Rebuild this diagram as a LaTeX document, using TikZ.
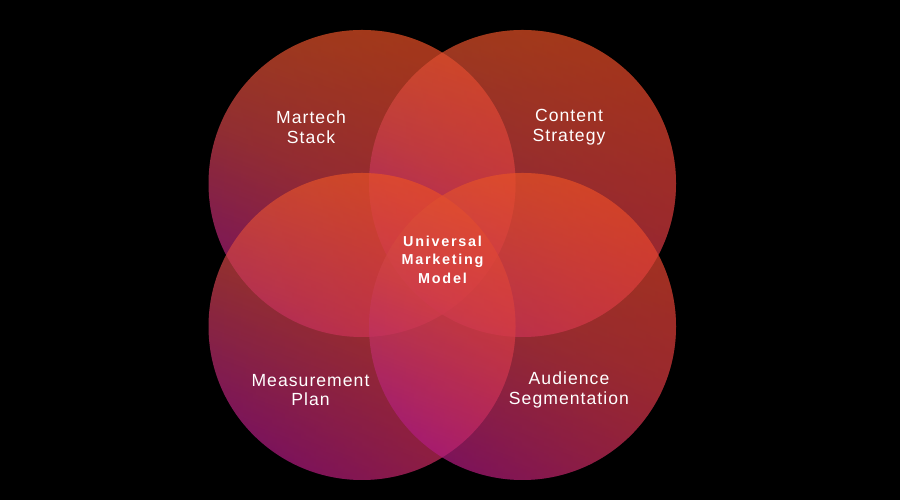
\documentclass[tikz,border=0pt]{standalone}
\usepackage{fontspec}
\usepackage{xcolor}
\usepackage{tikz}
\usetikzlibrary{fadings}
\setmainfont{Liberation Sans}
\newfontfamily\fuenteArea[LetterSpace=6]{Liberation Sans}
\newfontfamily\fuenteCentro[LetterSpace=12]{Liberation Sans}
\definecolor{FondoNegro}{RGB}{0,0,0}
\definecolor{NaranjaMarca}{RGB}{232,94,30}
\definecolor{CobreMarca}{RGB}{206,66,74}
\definecolor{RojoMarca}{RGB}{236,52,56}
\definecolor{MoradoMarca}{RGB}{170,24,140}
\tikzfading[name=rojoderecha,left color=transparent!100,middle color=transparent!92,right color=transparent!50]

\begin{document}
\begin{tikzpicture}[scale=1.0,
  petalo/.style={top color=NaranjaMarca,bottom color=MoradoMarca,middle color=CobreMarca,shading angle=-20},
  brillo/.style={fill=RojoMarca,path fading=rojoderecha},
  capa/.style={transparency group,opacity=0.7},
  area/.style={text=white,align=center,font=\fuenteArea\fontsize{10}{11.3}\selectfont},
  centro/.style={text=white,align=center,font=\fuenteCentro\bfseries\fontsize{8.2}{10.5}\selectfont}]
  \fill[FondoNegro] (0,0) rectangle (18,10);
  % four circles, each flattened before it is laid over the others
  \begin{scope}[capa]
    \shade[petalo] (7.24,6.33) circle (3.07);
    \fill[brillo] (7.24,6.33) circle (3.07);
  \end{scope}
  \begin{scope}[capa]
    \shade[petalo] (10.45,6.33) circle (3.07);
    \fill[brillo] (10.45,6.33) circle (3.07);
  \end{scope}
  \begin{scope}[capa]
    \shade[petalo] (7.24,3.47) circle (3.07);
    \fill[brillo] (7.24,3.47) circle (3.07);
  \end{scope}
  \begin{scope}[capa]
    \shade[petalo] (10.45,3.47) circle (3.07);
    \fill[brillo] (10.45,3.47) circle (3.07);
  \end{scope}
  \node[area] (martech) at (6.22,7.46) {Martech\\Stack};
  \node[area] (contenido) at (11.38,7.46) {Content\\Strategy};
  \node[area] (medicion) at (6.21,2.2) {Measurement\\Plan};
  \node[area] (audiencia) at (11.38,2.2) {Audience\\Segmentation};
  \node[centro] (modelo) at (8.85,4.81) {Universal\\Marketing\\Model};
\end{tikzpicture}
\end{document}
